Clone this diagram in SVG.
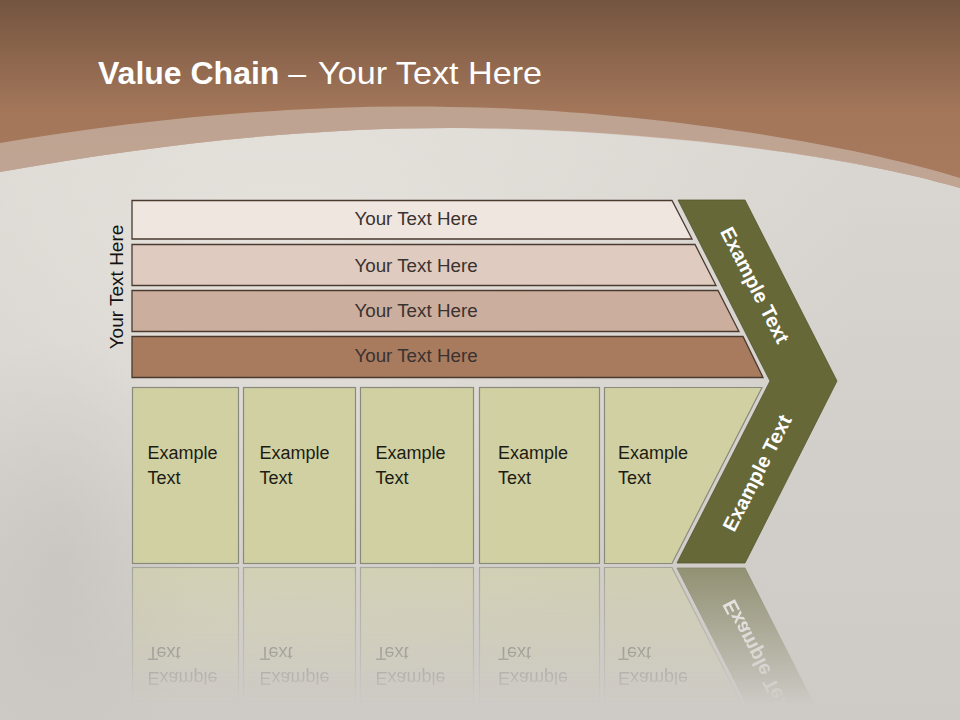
<svg xmlns="http://www.w3.org/2000/svg" xmlns:xlink="http://www.w3.org/1999/xlink" width="960" height="720" viewBox="0 0 960 720">
<style>
.sans{font-family:"Liberation Sans",Arial,sans-serif}
.bar{stroke:#4b3a2f;stroke-width:1.3}
.bt{font-size:18.8px;fill:#3a3230;text-anchor:middle}
.box{fill:#d0d0a3;stroke:#8a8a7c;stroke-width:1.2}
.boxt{font-size:18px;fill:#1c1c12}
.chev{fill:#666838;stroke:#55572e;stroke-width:0.8}
.ct{font-size:20px;font-weight:bold;fill:#ffffff;text-anchor:middle}
</style>
<defs>
<linearGradient id="bgGrad" x1="0" y1="0" x2="0" y2="1">
<stop offset="0" stop-color="#dedad4"/>
<stop offset="0.5" stop-color="#d4d0cc"/>
<stop offset="1" stop-color="#cecac6"/>
</linearGradient>
<linearGradient id="brownGrad" x1="0" y1="0" x2="0" y2="200" gradientUnits="userSpaceOnUse">
<stop offset="0" stop-color="#74553f"/>
<stop offset="0.55" stop-color="#a3765a"/>
<stop offset="1" stop-color="#a97b5f"/>
</linearGradient>
<radialGradient id="glow" cx="0.3" cy="0.35" r="0.6">
<stop offset="0" stop-color="#ebe7e1" stop-opacity="0.7"/>
<stop offset="1" stop-color="#ebe7e1" stop-opacity="0"/>
</radialGradient>
<radialGradient id="shadeL" cx="0.5" cy="0.5" r="0.5">
<stop offset="0" stop-color="#bdb9b5" stop-opacity="0.45"/>
<stop offset="1" stop-color="#bdb9b5" stop-opacity="0"/>
</radialGradient>
<linearGradient id="fadeGrad" x1="0" y1="566" x2="0" y2="705" gradientUnits="userSpaceOnUse">
<stop offset="0" stop-color="#fff" stop-opacity="0.6"/>
<stop offset="0.6" stop-color="#fff" stop-opacity="0.25"/>
<stop offset="1" stop-color="#fff" stop-opacity="0"/>
</linearGradient>
<mask id="fade" maskUnits="userSpaceOnUse" x="0" y="565" width="960" height="155">
<rect x="0" y="565" width="960" height="155" fill="url(#fadeGrad)"/>
</mask>
</defs>

<!-- background -->
<rect width="960" height="720" fill="url(#bgGrad)"/>
<rect width="960" height="720" fill="url(#glow)"/>
<ellipse cx="60" cy="560" rx="140" ry="220" fill="url(#shadeL)"/>
<path d="M0,0 H960 V188 C830,150 620,128 450,128 C300,128 150,145 0,172 Z" fill="url(#brownGrad)"/>
<path d="M0,143 C150,118 300,104 450,107 C600,108 820,135 960,178 V188 C830,150 620,130 450,128 C300,128 150,145 0,172 Z" fill="#d6c8c0" fill-opacity="0.55"/>

<!-- title -->
<text class="sans" x="98" y="84" font-size="32" fill="#ffffff"><tspan font-weight="bold">Value Chain</tspan> – <tspan x="318" textLength="224" lengthAdjust="spacingAndGlyphs">Your Text Here</tspan></text>

<!-- side label -->
<g id="side-label">
<text class="sans" transform="translate(116,287) rotate(-90)" x="0" y="6.5" font-size="19" fill="#111" text-anchor="middle">Your Text Here</text>
</g>

<!-- bars -->
<g id="bar1">
<polygon class="bar" points="132,200.5 672,200.5 692,239 132,239" fill="#efe6e0"/>
<text class="sans bt" x="416" y="225">Your Text Here</text>
</g>
<g id="bar2">
<polygon class="bar" points="132,244.5 695,244.5 716,285.5 132,285.5" fill="#dfcbbf"/>
<text class="sans bt" x="416" y="272">Your Text Here</text>
</g>
<g id="bar3">
<polygon class="bar" points="132,290.5 718,290.5 739,331.5 132,331.5" fill="#cbae9d"/>
<text class="sans bt" x="416" y="317">Your Text Here</text>
</g>
<g id="bar4">
<polygon class="bar" points="132,336.5 743,336.5 763,377.5 132,377.5" fill="#a87b5f"/>
<text class="sans bt" x="416" y="362">Your Text Here</text>
</g>

<!-- bottom boxes -->
<g id="box1">
<rect class="box" x="132.5" y="387.5" width="106" height="176"/>
<text class="sans boxt" x="147.5" y="459">Example</text>
<text class="sans boxt" x="147.5" y="484">Text</text>
</g>
<g id="box2">
<rect class="box" x="243.5" y="387.5" width="112" height="176"/>
<text class="sans boxt" x="259.5" y="459">Example</text>
<text class="sans boxt" x="259.5" y="484">Text</text>
</g>
<g id="box3">
<rect class="box" x="360.5" y="387.5" width="113" height="176"/>
<text class="sans boxt" x="375.5" y="459">Example</text>
<text class="sans boxt" x="375.5" y="484">Text</text>
</g>
<g id="box4">
<rect class="box" x="479.5" y="387.5" width="120" height="176"/>
<text class="sans boxt" x="498" y="459">Example</text>
<text class="sans boxt" x="498" y="484">Text</text>
</g>
<g id="box5">
<polygon class="box" points="604.5,387.5 762,387.5 672,563.5 604.5,563.5"/>
<text class="sans boxt" x="618" y="459">Example</text>
<text class="sans boxt" x="618" y="484">Text</text>
</g>

<!-- chevron -->
<g id="chevron">
<polygon class="chev" points="678,200 745,200 837,381 745,563 677,563 770,381"/>
<text class="sans ct" transform="translate(755,285) rotate(63)" x="0" y="7">Example Text</text>
<text class="sans ct" transform="translate(757,473) rotate(-63)" x="0" y="7">Example Text</text>
</g>

<!-- reflection -->
<g id="reflection" mask="url(#fade)">
<g transform="translate(0,1131) scale(1,-1)">
<use xlink:href="#box1"/>
<use xlink:href="#box2"/>
<use xlink:href="#box3"/>
<use xlink:href="#box4"/>
<use xlink:href="#box5"/>
<use xlink:href="#chevron"/>
</g>
</g>
</svg>
